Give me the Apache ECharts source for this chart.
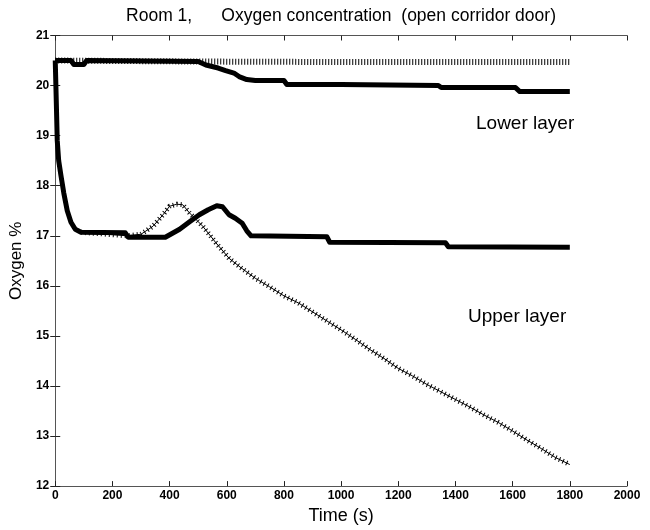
<!DOCTYPE html>
<html>
<head>
<meta charset="utf-8">
<script src="https://cdn.jsdelivr.net/npm/echarts@6/dist/echarts.min.js"></script>
<style>html,body{margin:0;padding:0;background:#fff}#c{width:650px;height:530px}</style>
</head>
<body>
<div id="c"></div>
<script>
// ---- data (time s, oxygen %) ----
var xTicks = [0, 2000, 200];
var yTicks = [12, 21, 1];
var lowerMeasured = [[0,20.5],[55,20.5],[65,20.42],[100,20.42],[110,20.5],[500,20.48],[527,20.41],[570,20.35],[596,20.3],[625,20.25],[643,20.18],[670,20.12],[700,20.1],[800,20.1],[810,20.02],[1000,20.02],[1340,20.0],[1350,19.96],[1610,19.96],[1625,19.88],[1800,19.88]];
var lowerCalc = [[0,20.5],[500,20.48],[1000,20.47],[1500,20.47],[1800,20.47]];
var upperMeasured = [[0,20.5],[4,19.6],[7,18.9],[12,18.5],[20,18.2],[30,17.85],[42,17.5],[55,17.27],[70,17.13],[90,17.07],[245,17.06],[255,16.97],[385,16.97],[410,17.05],[435,17.13],[470,17.28],[504,17.42],[535,17.52],[565,17.6],[585,17.58],[608,17.42],[630,17.35],[654,17.25],[670,17.1],[685,17.0],[950,16.98],[960,16.87],[1365,16.86],[1375,16.78],[1800,16.77]];
var upperCalc = [[90,17.07],[250,17.0],[300,17.03],[342,17.19],[377,17.42],[400,17.59],[425,17.63],[446,17.62],[469,17.46],[516,17.19],[562,16.86],[608,16.55],[650,16.36],[700,16.15],[750,15.98],[800,15.8],[850,15.66],[900,15.48],[950,15.3],[1000,15.12],[1050,14.93],[1100,14.73],[1150,14.55],[1200,14.35],[1250,14.2],[1300,14.03],[1350,13.88],[1400,13.73],[1450,13.58],[1500,13.42],[1550,13.27],[1600,13.1],[1650,12.92],[1700,12.75],[1750,12.57],[1800,12.43]];
var titleText = 'Room 1,      Oxygen concentration  (open corridor door)';
var xName = 'Time (s)';
var yName = 'Oxygen %';
var noteLower = 'Lower layer';
var noteUpper = 'Upper layer';

var FONT = '"Liberation Sans", Arial, sans-serif';
var chart = echarts.init(document.getElementById('c'));
var tickStyle = {show:true, inside:true, length:5, lineStyle:{color:'#222', width:1}};
var lineAx = {show:true, lineStyle:{color:'#555', width:1}};
var lbl = function (v) { return String(v); };
chart.setOption({
  backgroundColor:'#fff',
  animation:false,
  title:{text:titleText, left:336, textAlign:'center', top:2,
    textStyle:{fontFamily:FONT, fontSize:17.5, fontWeight:'normal', color:'#000'}},
  grid:{left:51.5, right:23, top:35.5, bottom:43},
  xAxis:[{type:'value', min:xTicks[0], max:xTicks[1], interval:xTicks[2], position:'bottom',
      name:xName, nameLocation:'middle', nameGap:20,
      nameTextStyle:{fontFamily:FONT, fontSize:18, color:'#000'},
      axisLine:lineAx, axisTick:tickStyle, splitLine:{show:false},
      axisLabel:{fontFamily:FONT, fontSize:12, fontWeight:'bold', color:'#000', margin:4, formatter:lbl}},
    {type:'value', min:xTicks[0], max:xTicks[1], interval:xTicks[2], position:'top',
      axisLine:lineAx, axisTick:tickStyle, splitLine:{show:false}, axisLabel:{show:false}}],
  yAxis:[{type:'value', min:yTicks[0], max:yTicks[1], interval:yTicks[2], position:'left',
      name:yName, nameLocation:'middle', nameGap:25, nameRotate:90,
      nameTextStyle:{fontFamily:FONT, fontSize:17, color:'#000'},
      axisLine:lineAx, axisTick:tickStyle, splitLine:{show:false},
      axisLabel:{fontFamily:FONT, fontSize:12, fontWeight:'bold', color:'#000', margin:6, formatter:lbl}},
    {type:'value', min:yTicks[0], max:yTicks[1], interval:yTicks[2], position:'right',
      axisLine:lineAx, axisTick:tickStyle, splitLine:{show:false}, axisLabel:{show:false}}],
  series:[
    {type:'line', data:lowerCalc, showSymbol:false, z:2,
      lineStyle:{color:'#000', width:6, type:[1,2]}},
    {type:'line', data:upperCalc, showSymbol:false, z:2,
      lineStyle:{color:'#000', width:1}},
    {type:'line', data:upperCalc, showSymbol:false, z:2,
      lineStyle:{color:'#000', width:5, type:[1,3]}},
    {type:'line', data:lowerMeasured, showSymbol:false, z:3,
      lineStyle:{color:'#000', width:5, join:'round'}},
    {type:'line', data:upperMeasured, showSymbol:false, z:3,
      lineStyle:{color:'#000', width:5, join:'round'}}
  ],
  graphic:[
    {type:'text', left:476, top:114, style:{text:noteLower, font:'19px "Liberation Sans", Arial, sans-serif', fill:'#000'}},
    {type:'text', left:468, top:307, style:{text:noteUpper, font:'19px "Liberation Sans", Arial, sans-serif', fill:'#000'}}
  ]
});
</script>
</body>
</html>
